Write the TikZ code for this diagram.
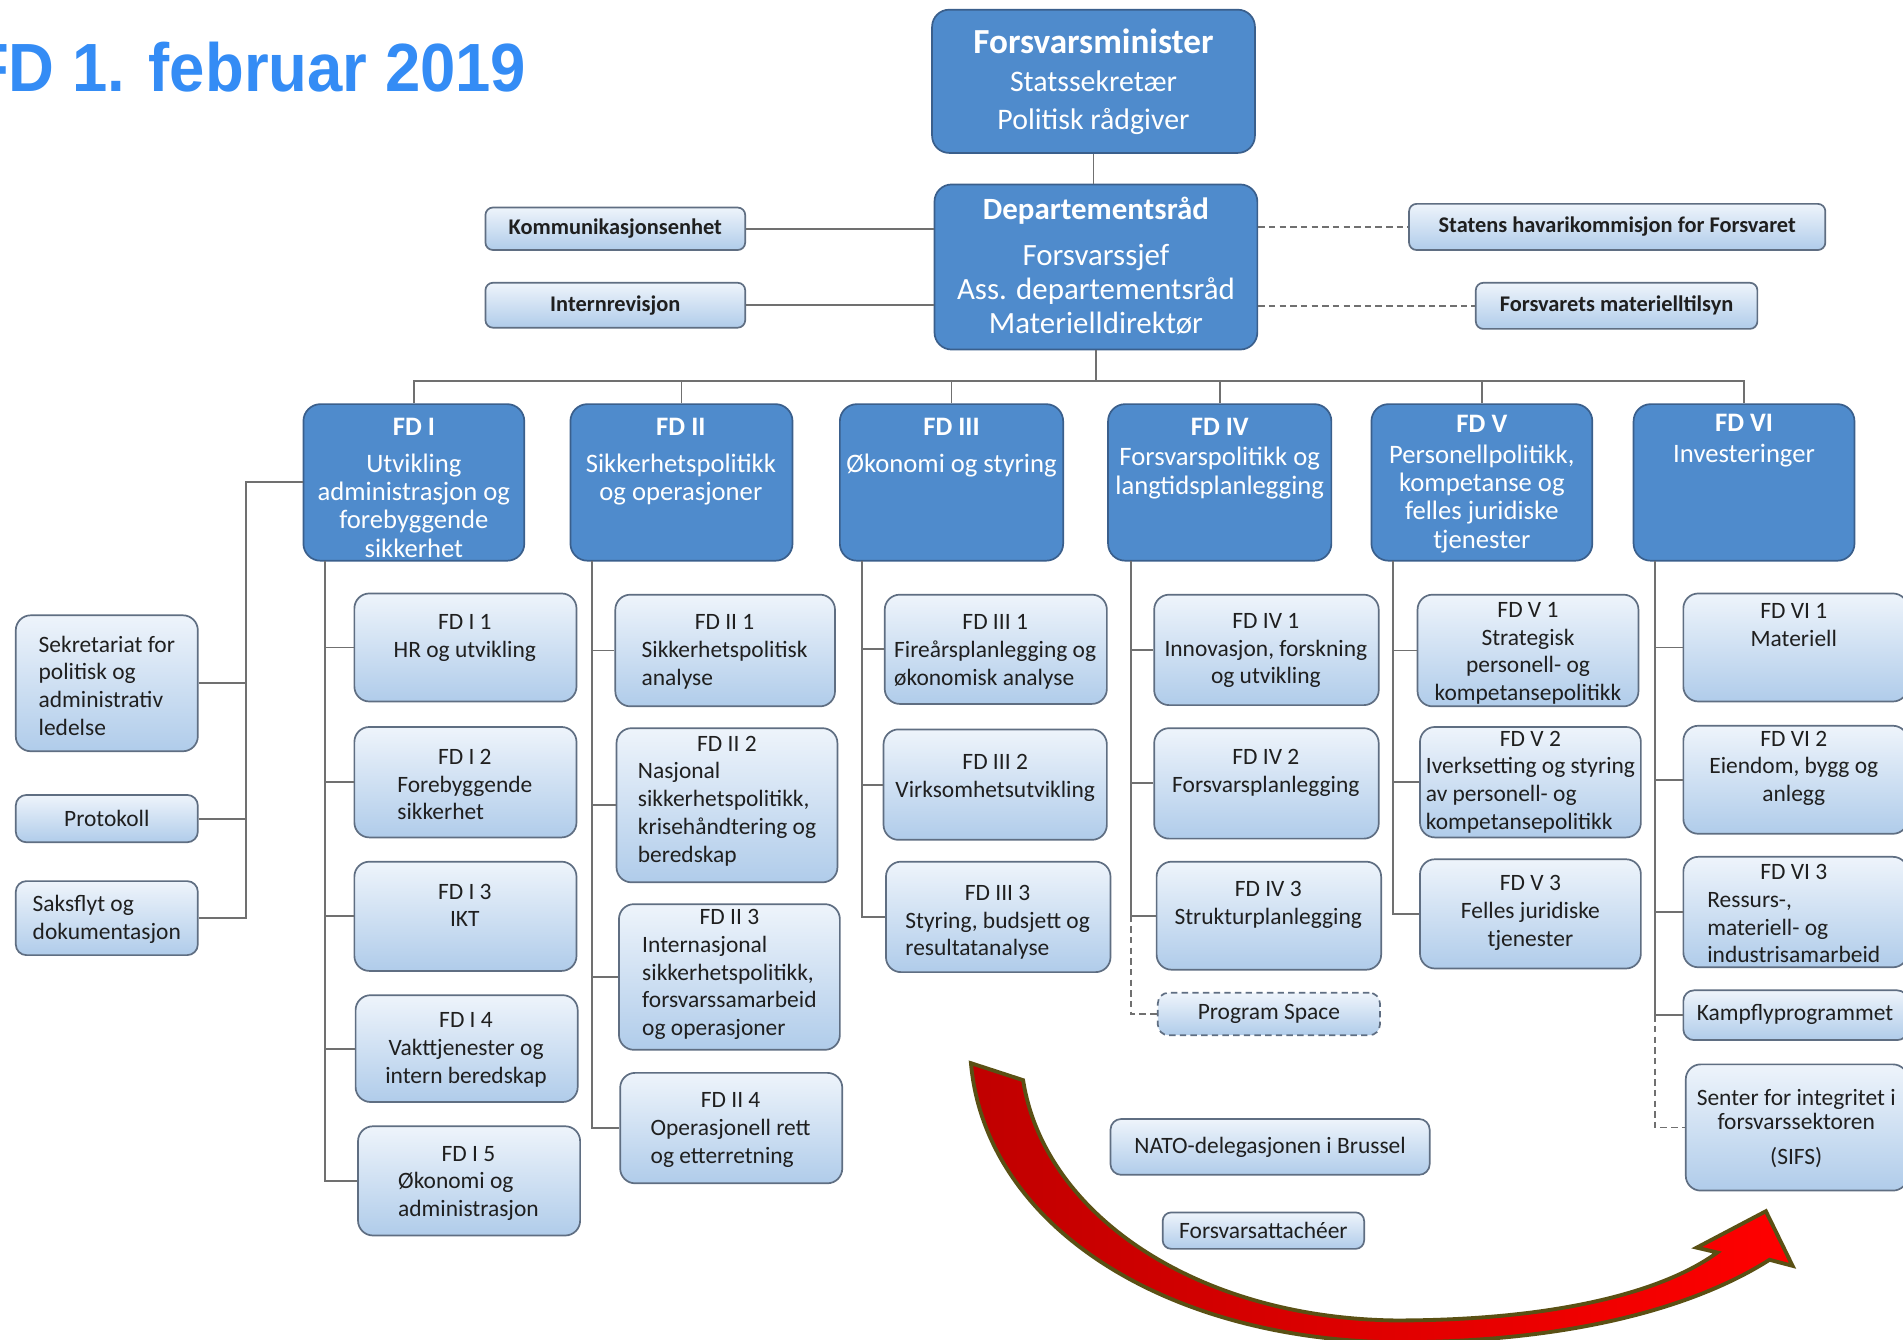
\documentclass[tikz,border=0pt]{standalone}
\usepackage{graphicx}
\usepackage{fontspec}
\setmainfont{Carlito}
\newfontfamily\titlefont{Liberation Sans}
\usetikzlibrary{fit}
\definecolor{fdblue}{RGB}{79,139,204}
\definecolor{fdedge}{RGB}{58,95,140}
\definecolor{lighttop}{RGB}{238,244,251}
\definecolor{lightbot}{RGB}{176,204,234}
\definecolor{lightedge}{RGB}{95,110,130}
\definecolor{linegrey}{RGB}{112,112,112}
\definecolor{titleblue}{RGB}{52,140,245}
\definecolor{arrowdark}{RGB}{192,0,0}
\definecolor{arrowred}{RGB}{255,0,0}
\definecolor{arrowedge}{RGB}{90,80,20}
\newcommand{\lb}[1]{\begin{tabular}[t]{@{}l@{}}#1\end{tabular}}

\begin{document}
\begin{tikzpicture}[x=0.02cm,y=-0.02cm]
\tikzset{dkboks/.style={draw=fdedge, line width=0.8pt, fill=fdblue, rounded corners=8pt, inner sep=0pt},
  lyboks/.style={draw=lightedge, line width=0.8pt, top color=lighttop, bottom color=lightbot, rounded corners=7pt, inner sep=0pt},
  smaboks/.style={lyboks, rounded corners=3.5pt},
  dktekst/.style={text=white, align=center, anchor=north, inner sep=0pt, font=\fontsize{12.5}{13.3}\selectfont},
  lytekst/.style={text=black!88, align=center, anchor=north, inner sep=0pt, font=\fontsize{11}{13}\selectfont},
  midttekst/.style={lytekst, anchor=center},
  fettekst/.style={midttekst, font=\bfseries\fontsize{10.5}{12}\selectfont},
  linje/.style={draw=linegrey, line width=0.9pt},
  stiplet/.style={linje, dash pattern=on 3pt off 2pt}}
\useasboundingbox (0,0) rectangle (1568,1104);
\fill[white] (0,0) rectangle (1568,1104);
% tittel
\node[anchor=base east, inner sep=0pt, text=titleblue, font=\titlefont\bfseries\fontsize{32}{36}\selectfont] (tittel) at (434,75) {\scalebox{0.93}[1]{FD 1. februar 2019}};
% ledelse
\node[dkboks, fit={(768,8) (1034,126)}] (fmin) {};
\node[dktekst, font=\fontsize{14}{18}\selectfont] (fmint) at (901,23) {{\fontsize{16.5}{18}\selectfont\bfseries Forsvarsminister}\\Statssekretær\\Politisk rådgiver};
\node[dkboks, fit={(770,152) (1036,288)}] (drad) {};
\node[dktekst, font=\fontsize{14.5}{15.8}\selectfont] (dradt) at (903,162) {\textbf{Departementsråd}\\[6pt]Forsvarssjef\\Ass. departementsråd\\Materielldirektør};
\node[smaboks, fit={(400,171) (614,206)}] (komm) {};
\node[smaboks, fit={(400,233) (614,270)}] (intern) {};
\node[smaboks, fit={(1161,168) (1504,206)}] (havari) {};
\node[smaboks, fit={(1216,233) (1448,271)}] (mtilsyn) {};
\node[fettekst] (kommt) at (komm.center) {Kommunikasjonsenhet};
\node[fettekst] (internt) at (intern.center) {Internrevisjon};
\node[fettekst] (havarit) at (havari.center) {Statens havarikommisjon for Forsvaret};
\node[fettekst] (mtilsynt) at (mtilsyn.center) {Forsvarets materielltilsyn};
\draw[linje] (fmin.south) -- (fmin.south |- drad.north);
\draw[linje] (komm) -- (komm -| drad.west);
\draw[linje] (intern) -- (intern -| drad.west);
\draw[stiplet] (drad.east |- havari) -- (havari);
\draw[stiplet] (drad.east |- mtilsyn) -- (mtilsyn);
% avdelinger
\node[dkboks, fit={(250,333) (432,462)}] (fd1) {};
\node[dkboks, fit={(470,333) (653,462)}] (fd2) {};
\node[dkboks, fit={(692,333) (876,462)}] (fd3) {};
\node[dkboks, fit={(913,333) (1097,462)}] (fd4) {};
\node[dkboks, fit={(1130,333) (1312,462)}] (fd5) {};
\node[dkboks, fit={(1346,333) (1528,462)}] (fd6) {};
\node[dktekst] (fd1t) at (341,344) {\textbf{FD I}\\[4pt]Utvikling\\administrasjon og\\forebyggende\\sikkerhet};
\node[dktekst] (fd2t) at (561,344) {\textbf{FD II}\\[4pt]Sikkerhetspolitikk\\og operasjoner};
\node[dktekst] (fd3t) at (784,344) {\textbf{FD III}\\[4pt]Økonomi og styring};
\node[dktekst] (fd4t) at (1005,344) {\textbf{FD IV}\\[1pt]Forsvarspolitikk og\\langtidsplanlegging};
\node[dktekst] (fd5t) at (1221,342) {\textbf{FD V}\\[1pt]Personellpolitikk,\\kompetanse og\\felles juridiske\\tjenester};
\node[dktekst] (fd6t) at (1437,341) {\textbf{FD VI}\\[1pt]Investeringer};
\coordinate (skinne) at (903,314);
\draw[linje] (drad) -- (skinne);
\draw[linje] (fd1.north) |- (fd6.north |- skinne) -- (fd6.north);
\draw[linje] (fd2.north) -- (fd2.north |- skinne);
\draw[linje] (fd3.north) -- (fd3.north |- skinne);
\draw[linje] (fd4.north) -- (fd4.north |- skinne);
\draw[linje] (fd5.north) -- (fd5.north |- skinne);
% FD I
\node[lyboks, fit={(292,489) (475,578)}] (fdI1) {};
\node[lyboks, fit={(292,599) (475,690)}] (fdI2) {};
\node[lyboks, fit={(292,710) (475,800)}] (fdI3) {};
\node[lyboks, fit={(293,820) (476,908)}] (fdI4) {};
\node[lyboks, fit={(295,928) (478,1018)}] (fdI5) {};
\node[lytekst] (fdI1t) at (383,506) {FD I 1\\HR og utvikling};
\node[lytekst] (fdI2t) at (383,617) {FD I 2\\\lb{Forebyggende\\sikkerhet}};
\node[lytekst] (fdI3t) at (383,728) {FD I 3\\IKT};
\node[lytekst] (fdI4t) at (384,834) {FD I 4\\Vakttjenester og\\intern beredskap};
\node[lytekst] (fdI5t) at (386,944) {FD I 5\\\lb{Økonomi og\\administrasjon}};
\coordinate (k1) at (268,462);
\draw[linje] (k1) |- (fdI5.west);
\draw[linje] (k1 |- fdI1.west) -- (fdI1.west);
\draw[linje] (k1 |- fdI2.west) -- (fdI2.west);
\draw[linje] (k1 |- fdI3.west) -- (fdI3.west);
\draw[linje] (k1 |- fdI4.west) -- (fdI4.west);
% FD II
\node[lyboks, fit={(507,490) (688,582)}] (fdII1) {};
\node[lyboks, fit={(508,600) (690,727)}] (fdII2) {};
\node[lyboks, fit={(510,745) (692,865)}] (fdII3) {};
\node[lyboks, fit={(511,884) (694,975)}] (fdII4) {};
\node[lytekst] (fdII1t) at (597,506) {FD II 1\\\lb{Sikkerhetspolitisk\\analyse}};
\node[lytekst] (fdII2t) at (599,606) {FD II 2\\\lb{Nasjonal\\sikkerhetspolitikk,\\krisehåndtering og\\beredskap}};
\node[lytekst] (fdII3t) at (601,749) {FD II 3\\\lb{Internasjonal\\sikkerhetspolitikk,\\forsvarssamarbeid\\og operasjoner}};
\node[lytekst] (fdII4t) at (602,900) {FD II 4\\\lb{Operasjonell rett\\og etterretning}};
\coordinate (k2) at (488,462);
\draw[linje] (k2) |- (fdII4.west);
\draw[linje] (k2 |- fdII1.west) -- (fdII1.west);
\draw[linje] (k2 |- fdII2.west) -- (fdII2.west);
\draw[linje] (k2 |- fdII3.west) -- (fdII3.west);
% FD III
\node[lyboks, fit={(729,490) (912,580)}] (fdIII1) {};
\node[lyboks, fit={(728,601) (912,692)}] (fdIII2) {};
\node[lyboks, fit={(730,710) (915,801)}] (fdIII3) {};
\node[lytekst] (fdIII1t) at (820,506) {FD III 1\\\lb{Fireårsplanlegging og\\økonomisk analyse}};
\node[lytekst] (fdIII2t) at (820,621) {FD III 2\\Virksomhetsutvikling};
\node[lytekst] (fdIII3t) at (822,729) {FD III 3\\\lb{Styring, budsjett og\\resultatanalyse}};
\coordinate (k3) at (710,462);
\draw[linje] (k3) |- (fdIII3.west);
\draw[linje] (k3 |- fdIII1.west) -- (fdIII1.west);
\draw[linje] (k3 |- fdIII2.west) -- (fdIII2.west);
% FD IV
\node[lyboks, fit={(951,490) (1136,581)}] (fdIV1) {};
\node[lyboks, fit={(951,600) (1136,691)}] (fdIV2) {};
\node[lyboks, fit={(953,710) (1138,799)}] (fdIV3) {};
\node[lyboks, dash pattern=on 3pt off 2pt, rounded corners=5pt, fit={(954,818) (1137,853)}] (space) {};
\node[lytekst] (fdIV1t) at (1043,505) {FD IV 1\\Innovasjon, forskning\\og utvikling};
\node[lytekst] (fdIV2t) at (1043,617) {FD IV 2\\Forsvarsplanlegging};
\node[lytekst] (fdIV3t) at (1045,726) {FD IV 3\\Strukturplanlegging};
\node[midttekst] (spacet) at (space.center) {Program Space};
\coordinate (k4) at (932,462);
\draw[linje] (k4) |- (fdIV3.west);
\draw[linje] (k4 |- fdIV1.west) -- (fdIV1.west);
\draw[linje] (k4 |- fdIV2.west) -- (fdIV2.west);
\draw[stiplet] (k4 |- fdIV3.west) |- (space.west);
% FD V
\node[lyboks, fit={(1168,490) (1350,582)}] (fdV1) {};
\node[lyboks, fit={(1170,599) (1352,690)}] (fdV2) {};
\node[lyboks, fit={(1170,708) (1352,798)}] (fdV3) {};
\node[lytekst] (fdV1t) at (1259,496) {FD V 1\\Strategisk\\personell- og\\kompetansepolitikk};
\node[lytekst] (fdV2t) at (1261,602) {FD V 2\\\lb{Iverksetting og styring\\av personell- og\\kompetansepolitikk}};
\node[lytekst] (fdV3t) at (1261,721) {FD V 3\\Felles juridiske\\tjenester};
\coordinate (k5) at (1148,462);
\draw[linje] (k5) |- (fdV3.west);
\draw[linje] (k5 |- fdV1.west) -- (fdV1.west);
\draw[linje] (k5 |- fdV2.west) -- (fdV2.west);
% FD VI
\node[lyboks, fit={(1387,489) (1572,578)}] (fdVI1) {};
\node[lyboks, fit={(1387,598) (1572,687)}] (fdVI2) {};
\node[lyboks, fit={(1387,706) (1572,797)}] (fdVI3) {};
\node[lyboks, rounded corners=5pt, fit={(1387,816) (1572,857)}] (kampfly) {};
\node[lyboks, fit={(1389,877) (1572,981)}] (sifs) {};
\node[lytekst] (fdVI1t) at (1478,497) {FD VI 1\\Materiell};
\node[lytekst] (fdVI2t) at (1478,602) {FD VI 2\\Eiendom, bygg og\\anlegg};
\node[lytekst] (fdVI3t) at (1478,712) {FD VI 3\\\lb{Ressurs-,\\materiell- og\\industrisamarbeid}};
\node[midttekst] (kampflyt) at (1479,836) {Kampflyprogrammet};
\node[lytekst, font=\fontsize{11}{11.5}\selectfont] (sifst) at (1480,897) {Senter for integritet i\\forsvarssektoren\\[5pt](SIFS)};
\coordinate (k6) at (1364,462);
\draw[linje] (k6) |- (kampfly.west);
\draw[linje] (k6 |- fdVI1.west) -- (fdVI1.west);
\draw[linje] (k6 |- fdVI2.west) -- (fdVI2.west);
\draw[linje] (k6 |- fdVI3.west) -- (fdVI3.west);
\draw[stiplet] (k6 |- kampfly.west) |- (sifs.west);
% stab til venstre
\node[lyboks, fit={(13,507) (163,619)}] (sekr) {};
\node[lyboks, rounded corners=5pt, fit={(13,655) (163,694)}] (prot) {};
\node[lyboks, rounded corners=5pt, fit={(13,726) (163,787)}] (saks) {};
\node[midttekst] (sekrt) at (88,567) {\lb{Sekretariat for\\politisk og\\administrativ\\ledelse}};
\node[midttekst] (prott) at (prot.center) {Protokoll};
\node[midttekst] (sakst) at (88,758) {\lb{Saksflyt og\\dokumentasjon}};
\coordinate (kv) at (203,403);
\draw[linje] (fd1.west) -| (kv |- saks.east) -- (saks.east);
\draw[linje] (sekr) -- (sekr -| kv);
\draw[linje] (prot) -- (prot -| kv);
% utenfor linjen
\node[lyboks, rounded corners=5pt, fit={(915,922) (1178,968)}] (nato) {};
\node[lyboks, rounded corners=4pt, fit={(958,999) (1124,1029)}] (attache) {};
\node[midttekst] (natot) at (nato.center) {NATO-delegasjonen i Brussel};
\node[midttekst] (attachet) at (attache.center) {Forsvarsattachéer};
% pil
\draw[arrowedge, line width=1.8pt, left color=arrowdark, right color=arrowred]
  (800,876) .. controls (812,1010) and (960,1104) .. (1150,1106)
  .. controls (1300,1106) and (1400,1075) .. (1458,1038)
  -- (1477,1043) -- (1455,998) -- (1398,1028) -- (1415,1032)
  .. controls (1370,1065) and (1280,1088) .. (1150,1088)
  .. controls (985,1086) and (860,1000) .. (843,890) -- cycle;
\end{tikzpicture}
\end{document}
